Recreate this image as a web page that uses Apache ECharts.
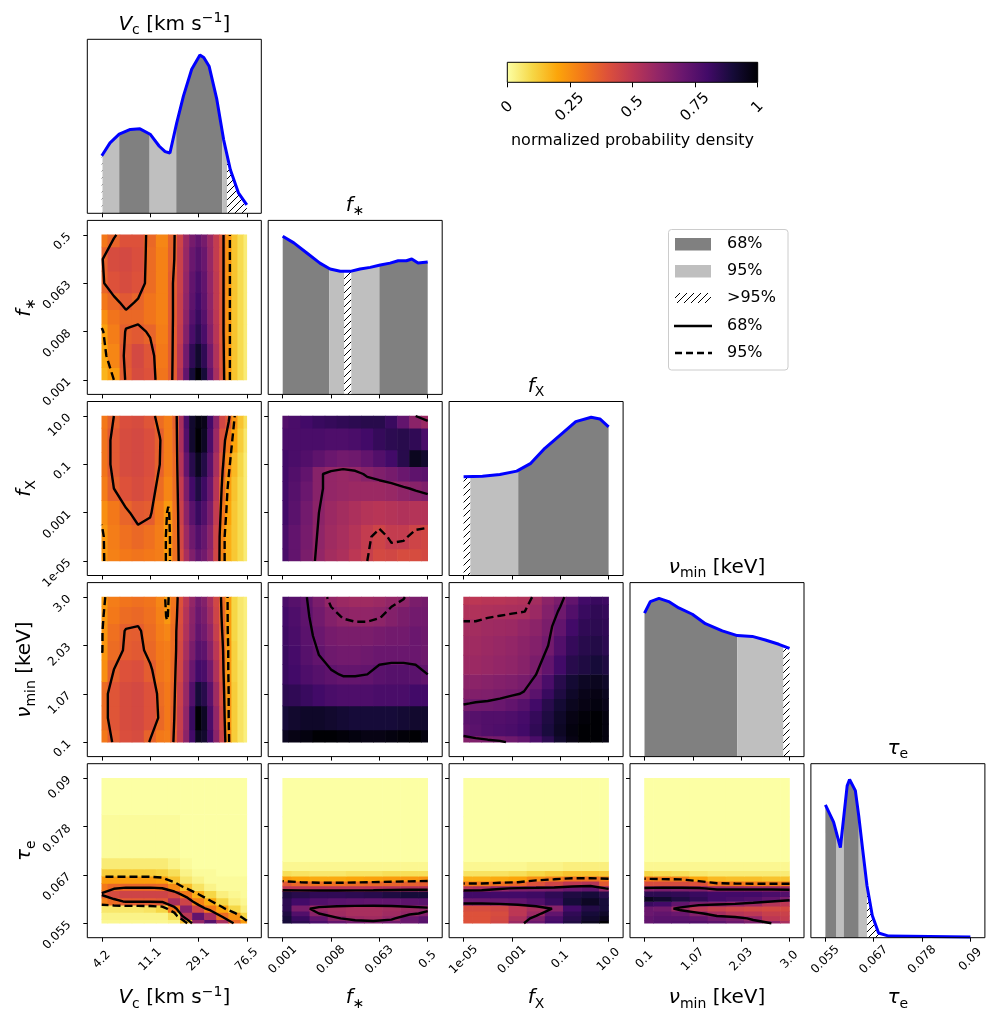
<!DOCTYPE html>
<html><head><meta charset="utf-8">
<script src="https://cdn.jsdelivr.net/npm/echarts@6/dist/echarts.min.js"></script>
<style>html,body{margin:0;padding:0;background:#fff}#c{width:998px;height:1024px}</style>
</head><body><div id="c"></div><script>
// ================= DATA =================
const tickPositions = [0, 1, 2, 3];
const vcTickLabels = ['4.2', '11.1', '29.1', '76.5'];
const fstarTickLabels = ['0.001', '0.008', '0.063', '0.5'];
const fxTickLabels = ['1e-05', '0.001', '0.1', '10.0'];
const nuTickLabels = ['0.1', '1.07', '2.03', '3.0'];
const tauTickLabels = ['0.055', '0.067', '0.078', '0.09'];
const cbarTicks = [0, 0.25, 0.5, 0.75, 1];

// 1D marginal posteriors (position in tick units, normalized density)
const vcCurve = [[0,0.364],[0.17,0.445],[0.36,0.50],[0.59,0.53],[0.79,0.534],[1.0,0.50],[1.19,0.424],[1.31,0.39],[1.41,0.381],[1.55,0.572],[1.69,0.742],[1.86,0.911],[2.03,1.0],[2.11,0.985],[2.22,0.93],[2.38,0.72],[2.52,0.466],[2.66,0.275],[2.83,0.127],[3.0,0.053]];
const fstarCurve = [[0,1.0],[0.23,0.958],[0.5,0.894],[0.77,0.83],[0.98,0.793],[1.19,0.778],[1.4,0.778],[1.6,0.793],[1.81,0.803],[2.02,0.818],[2.22,0.83],[2.39,0.845],[2.56,0.845],[2.67,0.856],[2.8,0.83],[3.0,0.837]];
const fxCurve = [[0,0.624],[0.39,0.628],[0.75,0.639],[1.1,0.66],[1.39,0.709],[1.68,0.804],[2.04,0.899],[2.32,0.973],[2.64,1.0],[2.82,0.99],[3.0,0.94]];
const nuCurve = [[0,0.907],[0.12,0.98],[0.3,1.0],[0.5,0.98],[0.71,0.94],[0.99,0.90],[1.26,0.84],[1.61,0.795],[1.92,0.765],[2.23,0.76],[2.5,0.737],[2.78,0.71],[3.0,0.684]];
const tauCurve = [[0,0.84],[0.17,0.73],[0.31,0.57],[0.45,0.96],[0.5,1.0],[0.62,0.93],[0.69,0.77],[0.77,0.56],[0.86,0.33],[0.97,0.14],[1.1,0.03],[1.31,0.01],[3.0,0.005]];

// credible bands [from, to, level] level 1 = 68%, 2 = 95%, 3 = >95%
const vcBands = [[0,0.015,3],[0.015,0.36,2],[0.36,0.99,1],[0.99,1.54,2],[1.54,2.49,1],[2.49,2.59,2],[2.59,3.0,3]];
const fstarBands = [[0,0.96,1],[0.96,1.27,2],[1.27,1.42,3],[1.42,2.0,2],[2.0,3.0,1]];
const fxBands = [[0,0.14,3],[0.14,1.13,2],[1.13,3.0,1]];
const nuBands = [[0,1.92,1],[1.92,2.87,2],[2.87,3.0,3]];
const tauBands = [[0,0.23,1],[0.23,0.38,2],[0.38,0.69,1],[0.69,0.86,2],[0.86,1.15,3]];

// 2D density grids (node positions in tick units; rows bottom -> top)
const grid13 = [0,0.25,0.5,0.75,1,1.25,1.5,1.75,2,2.25,2.5,2.75,3];
const grid9 = [0,0.375,0.75,1.125,1.5,1.875,2.25,2.625,3];

const xsVcFstar = [0,0.25,0.5,0.75,1,1.25,1.5,1.625,1.75,1.875,2,2.125,2.25,2.375,2.5,2.625,2.75,2.875,3];
const ysVcFstar = [0,0.5,1.0,1.3,1.6,2.0,2.5,3.0];
const zVcFstar = [
 [0.17,0.22,0.37,0.42,0.40,0.31,0.37,0.52,0.72,0.90,1.00,0.90,0.72,0.55,0.40,0.24,0.14,0.09,0.05],
 [0.19,0.27,0.38,0.43,0.39,0.30,0.37,0.50,0.68,0.84,0.92,0.84,0.68,0.53,0.39,0.24,0.14,0.09,0.05],
 [0.21,0.29,0.365,0.38,0.35,0.29,0.37,0.48,0.64,0.78,0.85,0.78,0.64,0.51,0.38,0.24,0.14,0.09,0.05],
 [0.25,0.31,0.34,0.34,0.31,0.28,0.37,0.47,0.62,0.75,0.82,0.75,0.62,0.50,0.38,0.24,0.14,0.09,0.05],
 [0.30,0.34,0.38,0.35,0.31,0.28,0.37,0.47,0.61,0.73,0.80,0.73,0.61,0.49,0.38,0.24,0.14,0.09,0.05],
 [0.35,0.40,0.42,0.40,0.33,0.28,0.37,0.46,0.60,0.72,0.78,0.72,0.60,0.49,0.38,0.24,0.14,0.09,0.05],
 [0.355,0.42,0.43,0.41,0.33,0.28,0.36,0.46,0.59,0.70,0.75,0.70,0.59,0.48,0.38,0.24,0.14,0.09,0.05],
 [0.30,0.35,0.40,0.40,0.34,0.27,0.355,0.45,0.58,0.67,0.72,0.67,0.58,0.48,0.38,0.24,0.14,0.09,0.05]];
const levVcFstar = [0.36, 0.22];

const xsVcFx = [0,0.25,0.5,0.75,1.0,1.2,1.375,1.55,1.65,1.75,1.875,2.0,2.125,2.25,2.375,2.5,2.625,2.75,2.875,3.0];
const ysVcFx = [0,0.5,1.0,1.5,2.0,2.5,3.0];
const zVcFx = [
 [0.23,0.28,0.30,0.31,0.30,0.29,0.22,0.32,0.42,0.55,0.65,0.72,0.68,0.60,0.44,0.27,0.18,0.13,0.09,0.05],
 [0.23,0.29,0.32,0.34,0.32,0.29,0.22,0.32,0.44,0.58,0.69,0.76,0.71,0.62,0.45,0.27,0.18,0.13,0.09,0.05],
 [0.25,0.30,0.35,0.38,0.37,0.30,0.23,0.32,0.46,0.62,0.74,0.82,0.76,0.66,0.48,0.30,0.20,0.13,0.09,0.05],
 [0.29,0.36,0.40,0.42,0.40,0.33,0.27,0.33,0.48,0.66,0.80,0.88,0.81,0.70,0.51,0.33,0.22,0.14,0.09,0.05],
 [0.31,0.38,0.42,0.43,0.41,0.36,0.29,0.34,0.52,0.72,0.86,0.95,0.87,0.74,0.55,0.37,0.26,0.16,0.10,0.05],
 [0.31,0.38,0.42,0.43,0.41,0.365,0.29,0.35,0.54,0.76,0.92,1.00,0.94,0.78,0.58,0.40,0.30,0.20,0.12,0.06],
 [0.30,0.36,0.41,0.42,0.39,0.33,0.29,0.36,0.55,0.78,0.92,0.98,0.96,0.80,0.62,0.44,0.38,0.24,0.14,0.08]];
const levVcFx = [0.36, 0.24];

const ysFstarFx = [0,0.5,1.0,1.5,1.8,2.1,2.5,3.0];
const zFstarFx = [
 [0.78,0.72,0.66,0.60,0.56,0.54,0.50,0.47,0.43,0.44,0.42,0.42,0.43],
 [0.78,0.72,0.67,0.61,0.57,0.55,0.52,0.48,0.45,0.48,0.48,0.45,0.44],
 [0.80,0.74,0.68,0.62,0.58,0.56,0.54,0.52,0.51,0.52,0.53,0.52,0.52],
 [0.80,0.75,0.70,0.63,0.60,0.59,0.58,0.58,0.58,0.59,0.61,0.63,0.65],
 [0.80,0.76,0.72,0.63,0.60,0.59,0.60,0.63,0.65,0.67,0.70,0.73,0.74],
 [0.80,0.78,0.76,0.73,0.70,0.68,0.69,0.72,0.76,0.80,0.86,0.95,0.92],
 [0.78,0.78,0.78,0.78,0.77,0.77,0.78,0.80,0.83,0.85,0.86,0.84,0.78],
 [0.76,0.78,0.80,0.82,0.83,0.84,0.85,0.86,0.86,0.82,0.72,0.62,0.58]];
const levFstarFx = [0.62, 0.47];

const xsVcNu = [0,0.25,0.5,0.75,1.0,1.25,1.35,1.5,1.625,1.75,1.875,2.0,2.125,2.25,2.375,2.5,2.625,2.75,2.875,3.0];
const ysVcNu = [0,0.5,1.0,1.5,1.9,2.3,2.6,3.0];
const zVcNu = [
 [0.30,0.37,0.41,0.42,0.355,0.30,0.29,0.37,0.48,0.62,0.80,0.95,0.92,0.80,0.62,0.45,0.25,0.12,0.07,0.04],
 [0.33,0.39,0.42,0.43,0.40,0.34,0.30,0.36,0.47,0.61,0.82,1.00,0.94,0.78,0.60,0.42,0.24,0.12,0.07,0.04],
 [0.33,0.39,0.42,0.43,0.40,0.33,0.30,0.35,0.46,0.59,0.76,0.90,0.86,0.74,0.57,0.40,0.24,0.12,0.07,0.04],
 [0.25,0.36,0.40,0.41,0.37,0.31,0.29,0.34,0.44,0.57,0.70,0.80,0.78,0.68,0.53,0.38,0.23,0.11,0.07,0.04],
 [0.235,0.33,0.37,0.38,0.34,0.30,0.29,0.33,0.43,0.55,0.66,0.75,0.73,0.63,0.50,0.37,0.23,0.11,0.06,0.04],
 [0.235,0.32,0.365,0.37,0.33,0.29,0.27,0.33,0.42,0.53,0.63,0.72,0.68,0.60,0.47,0.35,0.22,0.10,0.06,0.04],
 [0.23,0.30,0.33,0.34,0.32,0.28,0.23,0.32,0.41,0.52,0.62,0.70,0.66,0.57,0.45,0.34,0.22,0.10,0.06,0.04],
 [0.22,0.29,0.31,0.32,0.31,0.27,0.22,0.31,0.40,0.50,0.60,0.68,0.64,0.55,0.44,0.33,0.22,0.10,0.06,0.04]];
const levVcNu = [0.36, 0.24];

const ysFstarNu = [0,0.5,1.0,1.4,1.8,2.2,2.6,3.0];
const zFstarNu = [
 [0.95,0.97,0.98,1.00,1.00,0.99,0.98,0.97,0.97,0.98,0.99,1.00,0.98],
 [0.90,0.92,0.93,0.93,0.92,0.91,0.90,0.90,0.90,0.90,0.91,0.92,0.92],
 [0.85,0.84,0.82,0.80,0.78,0.77,0.77,0.77,0.78,0.78,0.78,0.80,0.80],
 [0.82,0.80,0.77,0.75,0.73,0.715,0.715,0.72,0.74,0.75,0.75,0.74,0.72],
 [0.82,0.79,0.75,0.72,0.69,0.68,0.68,0.69,0.70,0.70,0.70,0.70,0.69],
 [0.81,0.78,0.74,0.70,0.67,0.66,0.66,0.66,0.67,0.68,0.68,0.70,0.69],
 [0.80,0.77,0.73,0.68,0.64,0.615,0.605,0.605,0.615,0.64,0.66,0.68,0.68],
 [0.78,0.75,0.72,0.66,0.60,0.58,0.57,0.57,0.58,0.60,0.615,0.66,0.67]];
const levFstarNu = [0.72, 0.62];

const ysFxNu = [0,0.25,0.5,0.8,1.0,1.2,1.6,2.0,2.4,2.7,3.0];
const zFxNu = [
 [0.64,0.65,0.66,0.67,0.69,0.72,0.78,0.85,0.92,0.97,1.00,1.00,0.98],
 [0.72,0.74,0.76,0.77,0.78,0.80,0.84,0.89,0.94,0.98,1.00,1.00,0.98],
 [0.74,0.75,0.76,0.76,0.77,0.79,0.83,0.88,0.93,0.97,0.99,1.00,0.98],
 [0.675,0.685,0.69,0.70,0.72,0.75,0.80,0.86,0.91,0.95,0.97,0.98,0.96],
 [0.64,0.645,0.65,0.66,0.67,0.685,0.74,0.82,0.88,0.93,0.96,0.97,0.95],
 [0.62,0.62,0.63,0.64,0.65,0.665,0.70,0.78,0.86,0.91,0.94,0.95,0.93],
 [0.58,0.58,0.59,0.60,0.61,0.63,0.66,0.72,0.80,0.86,0.88,0.90,0.88],
 [0.57,0.57,0.58,0.59,0.60,0.62,0.64,0.68,0.76,0.83,0.86,0.87,0.85],
 [0.56,0.56,0.57,0.575,0.58,0.60,0.62,0.66,0.72,0.80,0.84,0.85,0.84],
 [0.53,0.53,0.535,0.54,0.545,0.548,0.58,0.64,0.69,0.76,0.82,0.84,0.83],
 [0.50,0.50,0.51,0.51,0.52,0.53,0.56,0.62,0.66,0.72,0.80,0.82,0.81]];
const levFxNu = [0.68, 0.55];

const ysVcTau = [0,0.15,0.3,0.45,0.6,0.75,0.9,1.05,1.2,1.5,3.0];
const zVcTau = [
 [0.02,0.02,0.02,0.02,0.02,0.02,0.03,0.15,0.60,0.75,0.55,0.34,0.22],
 [0.03,0.03,0.03,0.03,0.03,0.03,0.08,0.50,0.72,0.55,0.33,0.24,0.10],
 [0.06,0.06,0.06,0.06,0.07,0.10,0.30,0.62,0.45,0.30,0.20,0.10,0.04],
 [0.28,0.33,0.37,0.37,0.37,0.38,0.55,0.45,0.28,0.19,0.10,0.04,0.02],
 [0.37,0.42,0.45,0.45,0.45,0.45,0.42,0.30,0.18,0.10,0.04,0.02,0.01],
 [0.30,0.34,0.35,0.35,0.35,0.34,0.26,0.15,0.07,0.03,0.01,0.01,0.01],
 [0.22,0.22,0.22,0.22,0.22,0.21,0.14,0.06,0.03,0.01,0.01,0.01,0.01],
 [0.12,0.12,0.12,0.12,0.12,0.11,0.08,0.03,0.01,0.01,0.00,0.00,0.00],
 [0.05,0.05,0.05,0.05,0.05,0.05,0.03,0.01,0.00,0.00,0.00,0.00,0.00],
 [0.01,0.01,0.01,0.01,0.01,0.01,0.01,0.00,0.00,0.00,0.00,0.00,0.00],
 [0,0,0,0,0,0,0,0,0,0,0,0,0]];
const levVcTau = [0.36, 0.18];

const ysTau13 = [0,0.1,0.2,0.3,0.45,0.6,0.72,0.82,0.92,1.02,1.15,1.4,3.0];
const zFstarTau = [
 [0.90,0.85,0.78,0.72,0.68,0.66,0.68,0.70,0.75],
 [0.90,0.82,0.72,0.63,0.58,0.57,0.60,0.70,0.74],
 [0.88,0.76,0.62,0.57,0.55,0.55,0.57,0.60,0.64],
 [0.85,0.66,0.58,0.56,0.55,0.55,0.56,0.58,0.60],
 [0.85,0.80,0.76,0.74,0.73,0.72,0.72,0.73,0.74],
 [0.88,0.86,0.84,0.84,0.85,0.86,0.88,0.90,0.90],
 [0.50,0.50,0.50,0.50,0.50,0.51,0.52,0.53,0.53],
 [0.38,0.34,0.32,0.32,0.33,0.34,0.35,0.36,0.37],
 [0.22,0.20,0.19,0.19,0.20,0.21,0.22,0.23,0.24],
 [0.08,0.07,0.06,0.06,0.07,0.07,0.08,0.08,0.08],
 [0.02,0.02,0.02,0.02,0.02,0.02,0.02,0.02,0.02],
 [0,0,0,0,0,0,0,0,0],
 [0,0,0,0,0,0,0,0,0]];
const levFstarTau = [0.62, 0.30];

const zFxTau = [
 [0.40,0.40,0.44,0.58,0.70,0.80,0.88,0.95,1.00],
 [0.40,0.40,0.43,0.54,0.66,0.78,0.86,0.92,0.96],
 [0.40,0.40,0.42,0.50,0.58,0.72,0.84,0.90,0.93],
 [0.42,0.42,0.44,0.50,0.55,0.63,0.80,0.87,0.90],
 [0.70,0.70,0.71,0.72,0.76,0.82,0.90,0.94,0.90],
 [0.80,0.80,0.80,0.80,0.81,0.84,0.88,0.90,0.86],
 [0.52,0.54,0.60,0.64,0.65,0.66,0.70,0.72,0.60],
 [0.30,0.30,0.32,0.34,0.40,0.45,0.50,0.52,0.38],
 [0.18,0.18,0.19,0.20,0.25,0.28,0.32,0.32,0.30],
 [0.07,0.07,0.07,0.08,0.10,0.12,0.14,0.14,0.13],
 [0.02,0.02,0.02,0.02,0.03,0.03,0.04,0.04,0.04],
 [0,0,0,0,0,0,0,0,0],
 [0,0,0,0,0,0,0,0,0]];
const levFxTau = [0.62, 0.30];

const ysNuTau = [0,0.1,0.2,0.3,0.4,0.5,0.6,0.72,0.82,0.92,1.02,1.15,1.4,3.0];
const zNuTau = [
 [0.72,0.75,0.76,0.76,0.74,0.70,0.66,0.62,0.55],
 [0.72,0.74,0.74,0.72,0.68,0.66,0.60,0.50,0.48],
 [0.70,0.72,0.70,0.64,0.56,0.52,0.50,0.47,0.46],
 [0.70,0.68,0.58,0.50,0.47,0.45,0.44,0.43,0.43],
 [0.82,0.80,0.72,0.66,0.64,0.62,0.58,0.52,0.50],
 [0.95,0.92,0.88,0.84,0.80,0.78,0.76,0.72,0.66],
 [0.85,0.85,0.84,0.82,0.80,0.80,0.80,0.78,0.76],
 [0.64,0.66,0.65,0.64,0.58,0.58,0.58,0.58,0.58],
 [0.42,0.42,0.42,0.40,0.31,0.30,0.29,0.29,0.29],
 [0.30,0.29,0.28,0.20,0.16,0.15,0.15,0.14,0.14],
 [0.10,0.09,0.08,0.06,0.05,0.05,0.05,0.05,0.05],
 [0.02,0.02,0.02,0.02,0.02,0.02,0.02,0.02,0.02],
 [0,0,0,0,0,0,0,0,0],
 [0,0,0,0,0,0,0,0,0]];
const levNuTau = [0.62, 0.30];

// ================= STYLE / LAYOUT =================
const INFERNO_R = ['#fcffa4','#f6d746','#fca50a','#f37819','#dd513a','#bc3754','#932667','#6a176e','#420a68','#160b39','#000004'];
const FONT = 'DejaVu Sans';
const colLeft = c => 87.3 + 180.9 * c;
const rowTop = r => 39.3 + 181.1 * r;
const SIZE = 174;

const tickLabelSets = [vcTickLabels, fstarTickLabels, fxTickLabels, nuTickLabels, tauTickLabels];
const curves = [vcCurve, fstarCurve, fxCurve, nuCurve, tauCurve];
const bandSets = [vcBands, fstarBands, fxBands, nuBands, tauBands];
const panels2D = [
  {r:1,c:0,xs:xsVcFstar,ys:ysVcFstar,z:zVcFstar,lv:levVcFstar},
  {r:2,c:0,xs:xsVcFx,ys:ysVcFx,z:zVcFx,lv:levVcFx},
  {r:2,c:1,xs:grid13,ys:ysFstarFx,z:zFstarFx,lv:levFstarFx},
  {r:3,c:0,xs:xsVcNu,ys:ysVcNu,z:zVcNu,lv:levVcNu},
  {r:3,c:1,xs:grid13,ys:ysFstarNu,z:zFstarNu,lv:levFstarNu},
  {r:3,c:2,xs:grid13,ys:ysFxNu,z:zFxNu,lv:levFxNu},
  {r:4,c:0,xs:grid13,ys:ysVcTau,z:zVcTau,lv:levVcTau},
  {r:4,c:1,xs:grid9,ys:ysTau13,z:zFstarTau,lv:levFstarTau},
  {r:4,c:2,xs:grid9,ys:ysTau13,z:zFxTau,lv:levFxTau},
  {r:4,c:3,xs:grid9,ys:ysNuTau,z:zNuTau,lv:levNuTau}
];

// hatch pattern
function makeHatch() {
  const s = 7, cv = document.createElement('canvas');
  cv.width = s; cv.height = s;
  const g = cv.getContext('2d');
  g.strokeStyle = '#000'; g.lineWidth = 1;
  g.beginPath();
  g.moveTo(0, s); g.lineTo(s, 0);
  g.moveTo(-1, 1); g.lineTo(1, -1);
  g.moveTo(s - 1, s + 1); g.lineTo(s + 1, s - 1);
  g.stroke();
  return cv;
}
const HATCH = { image: makeHatch(), repeat: 'repeat' };

// ================= HELPERS =================
function interp(curve, u) {
  if (u <= curve[0][0]) return curve[0][1];
  for (let k = 1; k < curve.length; k++) {
    if (u <= curve[k][0]) {
      const a = curve[k-1], b = curve[k];
      return a[1] + (b[1] - a[1]) * (u - a[0]) / (b[0] - a[0]);
    }
  }
  return curve[curve.length-1][1];
}
function cellData(xs, ys, z) {
  const out = [];
  for (let j = 0; j < ys.length; j++) {
    const y0 = j === 0 ? ys[0] : (ys[j-1] + ys[j]) / 2;
    const y1 = j === ys.length - 1 ? ys[j] : (ys[j] + ys[j+1]) / 2;
    for (let i = 0; i < xs.length; i++) {
      const x0 = i === 0 ? xs[0] : (xs[i-1] + xs[i]) / 2;
      const x1 = i === xs.length - 1 ? xs[i] : (xs[i] + xs[i+1]) / 2;
      out.push([x0, x1, y0, y1, z[j][i]]);
    }
  }
  return out;
}
// marching squares on a rectilinear grid, segments joined into polylines
function contourPaths(xs, ys, z, L) {
  const pt = {}, segs = [];
  function ep(id, x0, y0, z0, x1, y1, z1) {
    if (!pt[id]) { const t = (L - z0) / (z1 - z0); pt[id] = [x0 + t * (x1 - x0), y0 + t * (y1 - y0)]; }
    return id;
  }
  for (let j = 0; j < ys.length - 1; j++) for (let i = 0; i < xs.length - 1; i++) {
    const a = z[j][i], b = z[j][i+1], c = z[j+1][i+1], d = z[j+1][i];
    const A = a >= L, B = b >= L, C = c >= L, D = d >= L;
    const bottom = A !== B ? ep('h' + j + '_' + i, xs[i], ys[j], a, xs[i+1], ys[j], b) : null;
    const right = B !== C ? ep('v' + j + '_' + (i+1), xs[i+1], ys[j], b, xs[i+1], ys[j+1], c) : null;
    const top = D !== C ? ep('h' + (j+1) + '_' + i, xs[i], ys[j+1], d, xs[i+1], ys[j+1], c) : null;
    const left = A !== D ? ep('v' + j + '_' + i, xs[i], ys[j], a, xs[i], ys[j+1], d) : null;
    const list = [bottom, right, top, left].filter(v => v !== null);
    if (list.length === 2) segs.push([list[0], list[1]]);
    else if (list.length === 4) {
      const M = (a + b + c + d) / 4 >= L;
      if (A !== M) segs.push([left, bottom]);
      if (B !== M) segs.push([bottom, right]);
      if (C !== M) segs.push([right, top]);
      if (D !== M) segs.push([top, left]);
    }
  }
  const adj = {};
  segs.forEach((s, k) => { (adj[s[0]] = adj[s[0]] || []).push(k); (adj[s[1]] = adj[s[1]] || []).push(k); });
  const used = segs.map(() => false);
  const paths = [];
  function extend(chain, atEnd) {
    while (true) {
      const id = atEnd ? chain[chain.length - 1] : chain[0];
      const nk = (adj[id] || []).find(k => !used[k]);
      if (nk === undefined) return;
      used[nk] = true;
      const s = segs[nk];
      const other = s[0] === id ? s[1] : s[0];
      if (atEnd) chain.push(other); else chain.unshift(other);
    }
  }
  segs.forEach((s, k) => {
    if (used[k]) return;
    used[k] = true;
    const chain = [s[0], s[1]];
    extend(chain, true);
    extend(chain, false);
    paths.push(chain.map(id => pt[id]));
  });
  return paths;
}

// ================= BUILD OPTION =================
const grids = [], xAxes = [], yAxes = [], series = [], heatIdx = [];
let g = 0;
function addGrid(r, c) {
  grids.push({ left: colLeft(c), top: rowTop(r), width: SIZE, height: SIZE, show: true,
    borderColor: '#000', borderWidth: 1, backgroundColor: 'transparent', z: 10,
    containLabel: false, outerBoundsMode: 'none' });
  const xlabels = tickLabelSets[c];
  xAxes.push({ type: 'value', gridIndex: g, min: -0.3, max: 3.3,
    axisLine: { show: false, onZero: false },
    axisTick: { show: true, customValues: tickPositions, length: 4, inside: false, lineStyle: { color: '#000', width: 1 } },
    axisLabel: { show: r === 4, customValues: tickPositions, formatter: v => xlabels[Math.round(v)],
      rotate: 45, fontSize: 12, fontFamily: FONT, color: '#000', align: 'center', verticalAlign: 'middle',
      margin: 22, hideOverlap: false },
    splitLine: { show: false } });
  if (r === c) {
    yAxes.push({ type: 'value', gridIndex: g, min: 0, max: 1.1,
      axisLine: { show: false, onZero: false }, axisTick: { show: false }, axisLabel: { show: false }, splitLine: { show: false } });
  } else {
    const ylabels = tickLabelSets[r];
    yAxes.push({ type: 'value', gridIndex: g, min: -0.3, max: 3.3,
      axisLine: { show: false, onZero: false },
      axisTick: { show: true, customValues: tickPositions, length: 4, inside: false, lineStyle: { color: '#000', width: 1 } },
      axisLabel: { show: c === 0, customValues: tickPositions, formatter: v => ylabels[Math.round(v)],
        rotate: 45, fontSize: 12, fontFamily: FONT, color: '#000', align: 'right', verticalAlign: 'middle',
        margin: 18, hideOverlap: false },
      splitLine: { show: false } });
  }
  return g++;
}

// diagonal panels
for (let i = 0; i < 5; i++) {
  const gi = addGrid(i, i);
  const curve = curves[i];
  series.push({ type: 'custom', xAxisIndex: gi, yAxisIndex: gi, clip: true, silent: true, z: 2,
    data: bandSets[i],
    renderItem: function (params, api) {
      const a = api.value(0), b = api.value(1), lvl = api.value(2);
      const pts = [[a, interp(curve, a)]];
      curve.forEach(p => { if (p[0] > a && p[0] < b) pts.push(p); });
      pts.push([b, interp(curve, b)], [b, 0], [a, 0]);
      return { type: 'polygon', shape: { points: pts.map(p => api.coord(p)) },
        style: { fill: lvl === 1 ? '#808080' : (lvl === 2 ? '#bfbfbf' : HATCH), stroke: null } };
    } });
  series.push({ type: 'line', xAxisIndex: gi, yAxisIndex: gi, data: curve, showSymbol: false, silent: true,
    smooth: false, z: 5, lineStyle: { color: '#0000ff', width: 3 }, clip: false });
}

// 2D panels
panels2D.forEach(p => {
  const gi = addGrid(p.r, p.c);
  heatIdx.push(series.length);
  series.push({ type: 'custom', xAxisIndex: gi, yAxisIndex: gi, clip: true, silent: true, z: 1,
    dimensions: ['x0', 'x1', 'y0', 'y1', 'density'],
    data: cellData(p.xs, p.ys, p.z),
    renderItem: function (params, api) {
      const p0 = api.coord([api.value(0), api.value(2)]);
      const p1 = api.coord([api.value(1), api.value(3)]);
      return { type: 'rect', shape: { x: Math.min(p0[0], p1[0]) - 0.3, y: Math.min(p0[1], p1[1]) - 0.3,
        width: Math.abs(p1[0] - p0[0]) + 0.6, height: Math.abs(p1[1] - p0[1]) + 0.6 },
        style: { fill: api.visual('color') } };
    } });
  p.lv.forEach((L, li) => {
    contourPaths(p.xs, p.ys, p.z, L).forEach(path => {
      series.push({ type: 'line', xAxisIndex: gi, yAxisIndex: gi, data: path, showSymbol: false, silent: true,
        smooth: false, z: 4, clip: true,
        lineStyle: { color: '#000', width: 2.4, type: li === 0 ? 'solid' : [8, 4] } });
    });
  });
});

// colorbar
grids.push({ left: 507.3, top: 62.3, width: 250.4, height: 20, show: true, borderColor: '#000', borderWidth: 1,
  backgroundColor: 'transparent', z: 10, containLabel: false, outerBoundsMode: 'none' });
xAxes.push({ type: 'value', gridIndex: g, min: 0, max: 1, interval: 0.25,
  axisLine: { show: false, onZero: false },
  axisTick: { show: true, length: 5, inside: false, lineStyle: { color: '#000', width: 1 } },
  axisLabel: { show: true, rotate: 45, fontSize: 15, fontFamily: FONT, color: '#000', align: 'center',
    verticalAlign: 'middle', margin: 25, hideOverlap: false, showMinLabel: true, showMaxLabel: true },
  splitLine: { show: false },
  name: 'normalized probability density', nameLocation: 'middle', nameGap: 51,
  nameTextStyle: { fontSize: 16, fontFamily: FONT, color: '#000' } });
yAxes.push({ type: 'value', gridIndex: g, min: 0, max: 1, show: false });
series.push({ type: 'custom', xAxisIndex: g, yAxisIndex: g, silent: true, data: [[cbarTicks[0], cbarTicks[cbarTicks.length - 1]]],
  renderItem: function (params, api) {
    const p0 = api.coord([api.value(0), 0]), p1 = api.coord([api.value(1), 1]);
    const stops = INFERNO_R.map((col, k) => ({ offset: k / (INFERNO_R.length - 1), color: col }));
    return { type: 'rect', shape: { x: p0[0], y: p1[1], width: p1[0] - p0[0], height: p0[1] - p1[1] },
      style: { fill: new echarts.graphic.LinearGradient(0, 0, 1, 0, stops) } };
  } });
g++;

// ================= TEXT (titles, axis names, legend) =================
const RICH = {
  i: { fontStyle: 'italic', fontSize: 20, fontFamily: FONT, lineHeight: 26, fill: '#000' },
  n: { fontSize: 20, fontFamily: FONT, lineHeight: 26, fill: '#000' },
  s: { fontSize: 14, fontFamily: FONT, verticalAlign: 'bottom', fill: '#000' },
  p: { fontSize: 14, fontFamily: FONT, verticalAlign: 'top', fill: '#000' }
};
const paramNames = [
  '{i|V}{s|c}{n| [km s}{p|−1}{n|]}',
  '{i|f}{s|∗}',
  '{i|f}{s|X}',
  '{i|ν}{s|min}{n| [keV]}',
  '{i|τ}{s|e}'
];
function txt(x, y, text, rot) {
  return { type: 'text', x: x, y: y, rotation: rot || 0, silent: true, z: 20,
    style: { text: text, rich: RICH, align: 'center', verticalAlign: 'middle',
      textAlign: 'center', textVerticalAlign: 'middle', fill: '#000' } };
}
const graphics = [];
for (let i = 0; i < 5; i++) {
  const cx = colLeft(i) + SIZE / 2;
  graphics.push(txt(cx, rowTop(i) - 15, paramNames[i]));
  graphics.push(txt(cx, 998, paramNames[i]));
  if (i > 0) graphics.push(txt(25, rowTop(i) + SIZE / 2, paramNames[i], Math.PI / 2));
}
// legend
const legendEntries = ['68%', '95%', '>95%', '68%', '95%'];
const legY = [244, 271, 298, 326, 353];
graphics.push({ type: 'rect', silent: true, z: 20, shape: { x: 668.5, y: 229.5, width: 119.5, height: 140.5, r: 3 },
  style: { fill: 'rgba(255,255,255,0.8)', stroke: '#cccccc', lineWidth: 1 } });
graphics.push({ type: 'rect', silent: true, z: 21, shape: { x: 675, y: legY[0] - 6, width: 36, height: 12.5 }, style: { fill: '#808080' } });
graphics.push({ type: 'rect', silent: true, z: 21, shape: { x: 675, y: legY[1] - 6, width: 36, height: 12.5 }, style: { fill: '#bfbfbf' } });
graphics.push({ type: 'rect', silent: true, z: 21, shape: { x: 675, y: legY[2] - 5, width: 36, height: 10 }, style: { fill: HATCH } });
graphics.push({ type: 'line', silent: true, z: 21, shape: { x1: 674, y1: legY[3], x2: 712, y2: legY[3] }, style: { stroke: '#000', lineWidth: 2.5 } });
graphics.push({ type: 'line', silent: true, z: 21, shape: { x1: 675, y1: legY[4], x2: 712, y2: legY[4] }, style: { stroke: '#000', lineWidth: 2.5, lineDash: [7, 4] } });
legendEntries.forEach((t, k) => {
  graphics.push({ type: 'text', x: 727, y: legY[k], silent: true, z: 21,
    style: { text: t, fontSize: 16, fontFamily: FONT, fill: '#000', align: 'left', verticalAlign: 'middle',
      textAlign: 'left', textVerticalAlign: 'middle' } });
});

const option = {
  animation: false,
  backgroundColor: '#ffffff',
  textStyle: { fontFamily: FONT, color: '#000' },
  grid: grids, xAxis: xAxes, yAxis: yAxes, series: series,
  visualMap: [{ type: 'continuous', show: false, min: 0, max: 1, dimension: 4, seriesIndex: heatIdx,
    inRange: { color: INFERNO_R } }],
  graphic: { elements: graphics }
};
const chart = echarts.init(document.getElementById('c'), null, { renderer: 'canvas' });
chart.setOption(option);
</script></body></html>
